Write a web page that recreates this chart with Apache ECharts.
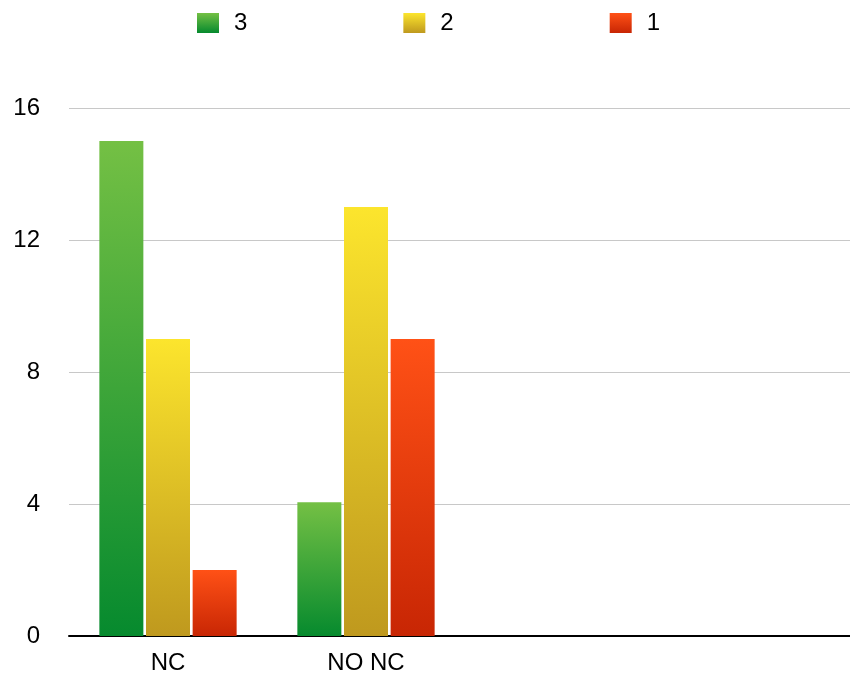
<!DOCTYPE html>
<html><head><meta charset="utf-8">
<script src="https://cdn.jsdelivr.net/npm/echarts@6/dist/echarts.min.js"></script>
<style>html,body{margin:0;padding:0;background:#fff;overflow:hidden}#c{width:861px;height:675px}</style>
</head><body><div id="c"></div>
<script>
var categories = ["NC", "NO NC", "", ""];
var seriesNames = ["3", "2", "1"];
var values3 = [15, 4.05, null, null];
var values2 = [9, 13, null, null];
var values1 = [2, 9, null, null];
var yTicks = [0, 4, 8, 12, 16];

function grad(top, bottom) {
  return new echarts.graphic.LinearGradient(0, 0, 0, 1, [
    {offset: 0, color: top}, {offset: 1, color: bottom}
  ]);
}
var colors = [grad('#74c044', '#068a2e'), grad('#fce52d', '#bf991e'), grad('#ff5116', '#c82604')];
var data = [values3, values2, values1];
var font = '"Liberation Sans", Arial, Helvetica, sans-serif';

var chart = echarts.init(document.getElementById('c'), null, {renderer: 'canvas'});
chart.setOption({
  animation: false,
  legend: {
    left: 197, top: 11, padding: 0,
    itemWidth: 22, itemHeight: 20, itemGap: 156,
    icon: 'rect',
    textStyle: {fontFamily: font, fontSize: 24, color: '#000', padding: [0, 0, 0, 10]},
    data: seriesNames
  },
  grid: {left: 69, top: 108, right: 0, bottom: 37, containLabel: false},
  xAxis: {
    type: 'category', data: categories,
    axisLine: {lineStyle: {color: '#000', width: 2}},
    axisTick: {show: false},
    axisLabel: {fontFamily: font, fontSize: 24, color: '#000', margin: 15}
  },
  yAxis: {
    type: 'value', min: yTicks[0], max: yTicks[yTicks.length - 1], interval: 4,
    axisLine: {show: false}, axisTick: {show: false},
    axisLabel: {fontFamily: font, fontSize: 24, color: '#000', margin: 29, verticalAlign: 'middle', padding: [4, 0, 0, 0]},
    splitLine: {lineStyle: {color: '#c8c8c8', width: 1}}
  },
  series: seriesNames.map(function (n, i) {
    return {
      name: n, type: 'bar', data: data[i],
      barWidth: 44, barGap: '6%',
      itemStyle: {color: colors[i]}
    };
  })
});
</script></body></html>
